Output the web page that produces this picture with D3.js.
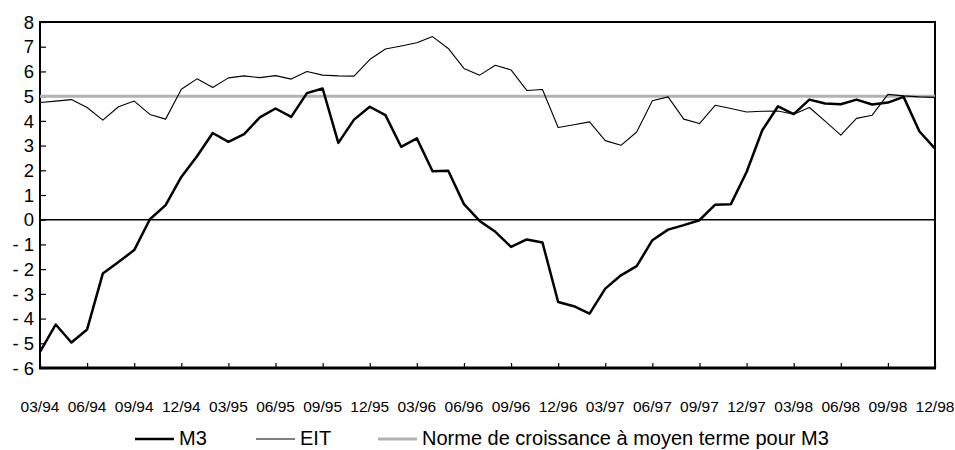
<!DOCTYPE html>
<html>
<head>
<meta charset="utf-8">
<script src="https://cdn.jsdelivr.net/npm/d3@7"></script>
<style>
  html, body { margin: 0; padding: 0; background: #fff; }
  svg { display: block; font-family: "Liberation Sans", Arial, sans-serif; }
</style>
</head>
<body>
<div id="chart"></div>
<script>
// monthly observations, 03/94 .. 12/98
const months = [
  "03/94","04/94","05/94","06/94","07/94","08/94","09/94","10/94","11/94","12/94",
  "01/95","02/95","03/95","04/95","05/95","06/95","07/95","08/95","09/95","10/95","11/95","12/95",
  "01/96","02/96","03/96","04/96","05/96","06/96","07/96","08/96","09/96","10/96","11/96","12/96",
  "01/97","02/97","03/97","04/97","05/97","06/97","07/97","08/97","09/97","10/97","11/97","12/97",
  "01/98","02/98","03/98","04/98","05/98","06/98","07/98","08/98","09/98","10/98","11/98","12/98"
];

const m3 = [
  -5.35, -4.24, -4.97, -4.44, -2.18, -1.71, -1.23, 0.02, 0.59, 1.73,
  2.57, 3.51, 3.15, 3.46, 4.14, 4.50, 4.16, 5.12, 5.31, 3.11, 4.05, 4.57,
  4.23, 2.95, 3.29, 1.96, 1.98, 0.63, -0.05, -0.49, -1.10, -0.80, -0.92, -3.33,
  -3.50, -3.80, -2.79, -2.25, -1.88, -0.83, -0.40, -0.22, -0.02, 0.61, 0.63, 1.93,
  3.62, 4.59, 4.27, 4.86, 4.70, 4.67, 4.86, 4.66, 4.74, 4.97, 3.58, 2.88
];

const eit = [
  4.74, 4.80, 4.86, 4.54, 4.03, 4.57, 4.80, 4.26, 4.07, 5.28,
  5.70, 5.35, 5.74, 5.82, 5.75, 5.83, 5.69, 6.00, 5.85, 5.82, 5.81, 6.48,
  6.91, 7.03, 7.16, 7.41, 6.93, 6.12, 5.85, 6.25, 6.06, 5.23, 5.27, 3.73,
  3.84, 3.96, 3.20, 3.01, 3.55, 4.81, 4.97, 4.07, 3.89, 4.63, 4.50, 4.36,
  4.39, 4.40, 4.27, 4.54, 3.99, 3.42, 4.10, 4.23, 5.07, 5.01, 4.97, 4.95
];

const norme = 5;

const tickLabels = ["03/94","06/94","09/94","12/94","03/95","06/95","09/95","12/95","03/96","06/96",
  "09/96","12/96","03/97","06/97","09/97","12/97","03/98","06/98","09/98","12/98"];
const yTicks = [-6,-5,-4,-3,-2,-1,0,1,2,3,4,5,6,7,8];

const legendItems = [
  { name: "M3", color: "#000", width: 2.5 },
  { name: "EIT", color: "#000", width: 1.1 },
  { name: "Norme de croissance à moyen terme pour M3", color: "#b2b2b2", width: 3 }
];

const width = 955, height = 450;
const plotL = 40, plotR = 935, plotT = 22, plotB = 368;

const svg = d3.select("#chart").append("svg")
  .attr("width", width)
  .attr("height", height);

const x = d3.scalePoint().domain(months).range([plotL, plotR]);
const y = d3.scaleLinear().domain([-6, 8]).range([plotB, plotT]);

// frame
svg.append("rect")
  .attr("x", plotL).attr("y", plotT)
  .attr("width", plotR - plotL).attr("height", plotB - plotT)
  .attr("fill", "none").attr("stroke", "#000").attr("stroke-width", 2);

// y axis, ticks inside
const yAxis = svg.append("g")
  .attr("transform", `translate(${plotL},0)`)
  .call(d3.axisRight(y).tickValues(yTicks).tickSize(6).tickFormat(""));
yAxis.select(".domain").remove();
yAxis.selectAll("line").attr("stroke", "#000").attr("stroke-width", 1.2);

svg.append("g").selectAll("text")
  .data(yTicks)
  .join("text")
  .attr("x", 34)
  .attr("y", d => y(d))
  .attr("dy", "0.36em")
  .attr("text-anchor", "end")
  .style("font-size", "18.5px")
  .text(d => d < 0 ? "- " + Math.abs(d) : d);

// x axis, ticks inside
const xAxis = svg.append("g")
  .attr("transform", `translate(0,${plotB})`)
  .call(d3.axisTop(x).tickValues(tickLabels).tickSize(5).tickFormat(""));
xAxis.select(".domain").remove();
xAxis.selectAll("line").attr("stroke", "#000").attr("stroke-width", 1.2);

svg.append("g").selectAll("text")
  .data(tickLabels)
  .join("text")
  .attr("x", d => x(d))
  .attr("y", 411.5)
  .attr("text-anchor", "middle")
  .style("font-size", "15.5px")
  .text(d => d);

// zero line
svg.append("line")
  .attr("x1", plotL).attr("x2", plotR)
  .attr("y1", y(0)).attr("y2", y(0))
  .attr("stroke", "#000").attr("stroke-width", 1.5);

// norm line
svg.append("line")
  .attr("x1", plotL).attr("x2", plotR)
  .attr("y1", y(norme)).attr("y2", y(norme))
  .attr("stroke", legendItems[2].color).attr("stroke-width", legendItems[2].width);

const line = d3.line()
  .x((d, i) => x(months[i]))
  .y(d => y(d));

svg.append("path")
  .datum(eit)
  .attr("d", line)
  .attr("fill", "none")
  .attr("stroke", "#000")
  .attr("stroke-width", 1.1)
  .attr("stroke-linejoin", "round");

svg.append("path")
  .datum(m3)
  .attr("d", line)
  .attr("fill", "none")
  .attr("stroke", "#000")
  .attr("stroke-width", 2.5)
  .attr("stroke-linejoin", "round");

// bottom axis line, heavier
svg.append("line")
  .attr("x1", plotL - 1).attr("x2", plotR + 1)
  .attr("y1", plotB).attr("y2", plotB)
  .attr("stroke", "#000").attr("stroke-width", 3);

// legend
const legendX = [135, 256, 378];
const lg = svg.append("g").selectAll("g")
  .data(legendItems)
  .join("g")
  .attr("transform", (d, i) => `translate(${legendX[i]},0)`);

lg.append("line")
  .attr("x1", 0).attr("x2", 39)
  .attr("y1", 439).attr("y2", 439)
  .attr("stroke", d => d.color)
  .attr("stroke-width", d => d.width);

lg.append("text")
  .attr("x", 44)
  .attr("y", 445)
  .style("font-size", "20px")
  .text(d => d.name);
</script>
</body>
</html>
